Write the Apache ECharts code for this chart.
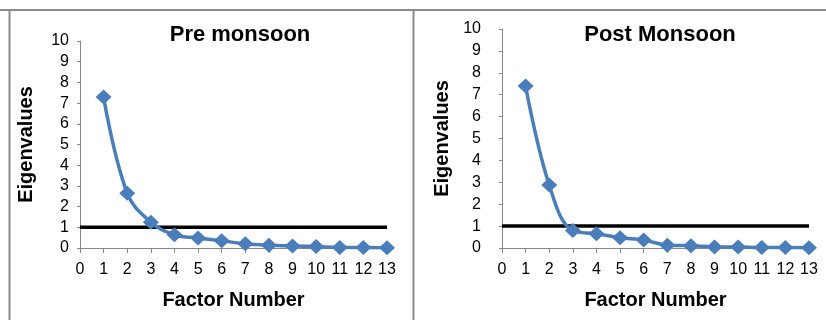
<!DOCTYPE html>
<html>
<head>
<meta charset="utf-8">
<script src="https://cdn.jsdelivr.net/npm/echarts@6/dist/echarts.min.js"></script>
<style>
html,body{margin:0;padding:0;background:#fff;}
#c{width:826px;height:320px;}
</style>
</head>
<body>
<div id="c"></div>
<script>
const factorNumbers = [1, 2, 3, 4, 5, 6, 7, 8, 9, 10, 11, 12, 13];
const preMonsoon = [7.3, 2.65, 1.25, 0.64, 0.48, 0.35, 0.2, 0.13, 0.1, 0.07, 0.03, 0.03, 0.01];
const postMonsoon = [7.4, 2.88, 0.8, 0.65, 0.47, 0.36, 0.13, 0.1, 0.05, 0.04, 0.02, 0.02, 0.01];
const thresholdX = [0, 13];
const thresholdY = [1, 1];
const panelTitles = ['Pre monsoon', 'Post Monsoon'];
const xAxisTitle = 'Factor Number';
const yAxisTitle = 'Eigenvalues';

const FONT = 'Liberation Sans, Arial, Helvetica, sans-serif';
const BLUE = '#4A7EBB';
const AXIS = '#868686';

function pairs(xs, ys) { return xs.map((x, i) => [x, ys[i]]); }

const chart = echarts.init(document.getElementById('c'), null, {renderer: 'canvas'});

function xAx(gi) {
  return {
    type: 'value', gridIndex: gi, min: 0, max: 13, interval: 1,
    splitLine: {show: false},
    axisLine: {onZero: false, lineStyle: {color: AXIS, width: 1}},
    axisTick: {show: true, length: 5, lineStyle: {color: AXIS}},
    axisLabel: {color: '#000', fontSize: 16, fontFamily: FONT, margin: 14},
    name: xAxisTitle, nameLocation: 'middle', nameGap: 42,
    nameTextStyle: {color: '#000', fontSize: 20, fontWeight: 'bold', fontFamily: FONT}
  };
}
function yAx(gi, margin, gap) {
  return {
    type: 'value', gridIndex: gi, min: 0, max: 10, interval: 1,
    splitLine: {show: false},
    axisLine: {show: true, lineStyle: {color: AXIS, width: 1}},
    axisTick: {show: true, length: 3, lineStyle: {color: AXIS}},
    axisLabel: {color: '#000', fontSize: 16, fontFamily: FONT, margin: margin},
    name: yAxisTitle, nameLocation: 'middle', nameGap: gap,
    nameTextStyle: {color: '#000', fontSize: 20, fontWeight: 'bold', fontFamily: FONT}
  };
}
function threshold(i) {
  return {
    type: 'line', xAxisIndex: i, yAxisIndex: i, data: pairs(thresholdX, thresholdY),
    symbol: 'none', lineStyle: {color: '#000', width: 3.5}, z: 2, silent: true
  };
}
function scree(i, vals) {
  return {
    type: 'line', xAxisIndex: i, yAxisIndex: i, data: pairs(factorNumbers, vals),
    smooth: 0.4, symbol: 'diamond', symbolSize: [16, 15],
    itemStyle: {color: BLUE}, lineStyle: {color: BLUE, width: 3.5}, z: 3, silent: true
  };
}

chart.setOption({
  animation: false,
  backgroundColor: '#fff',
  title: [
    {text: panelTitles[0], left: 235, top: 19, textAlign: 'center',
     textStyle: {fontSize: 22, fontWeight: 'bold', color: '#000', fontFamily: FONT}},
    {text: panelTitles[1], left: 655, top: 19, textAlign: 'center',
     textStyle: {fontSize: 22, fontWeight: 'bold', color: '#000', fontFamily: FONT}}
  ],
  grid: [
    {left: 80, right: 439, top: 41, bottom: 72},
    {left: 502, right: 17, top: 29, bottom: 72}
  ],
  xAxis: [xAx(0), xAx(1)],
  yAxis: [yAx(0, 11, 44), yAx(1, 21, 50)],
  series: [threshold(0), scree(0, preMonsoon), threshold(1), scree(1, postMonsoon)],
  graphic: [
    {type: 'line', shape: {x1: 0, y1: 10, x2: 826, y2: 10}, style: {stroke: '#8c8c8c', lineWidth: 2}, silent: true},
    {type: 'line', shape: {x1: 9.5, y1: 10, x2: 9.5, y2: 320}, style: {stroke: '#8c8c8c', lineWidth: 2}, silent: true},
    {type: 'line', shape: {x1: 413.5, y1: 10, x2: 413.5, y2: 320}, style: {stroke: '#8c8c8c', lineWidth: 2}, silent: true}
  ]
});
</script>
</body>
</html>
